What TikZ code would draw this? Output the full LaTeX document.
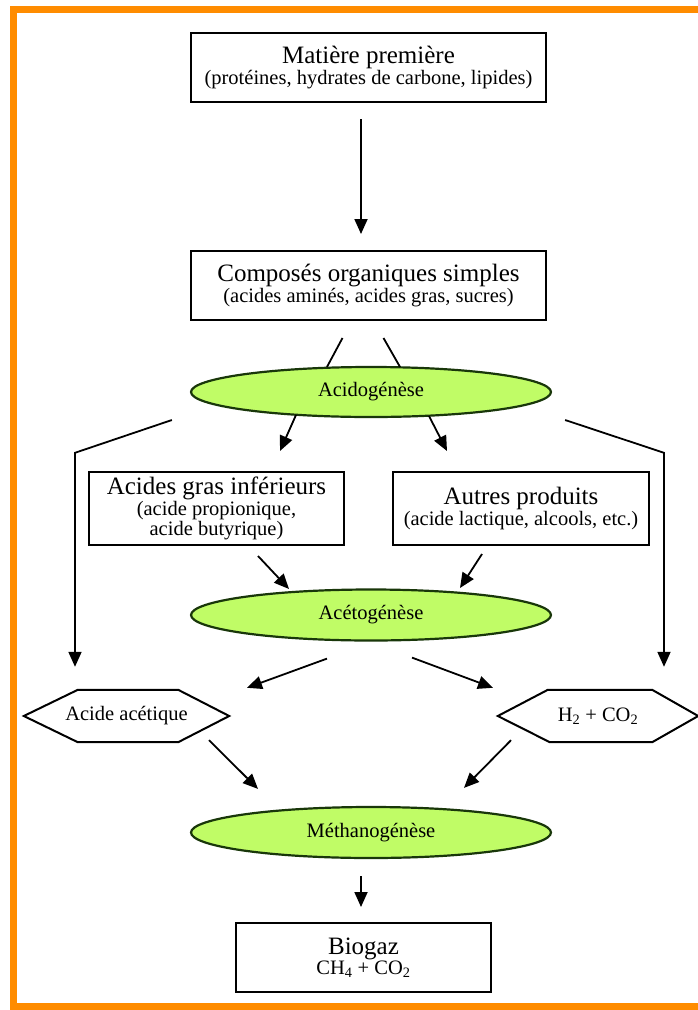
\documentclass[tikz,border=0pt]{standalone}
\usepackage{fontspec}
\setmainfont{Liberation Serif}
\usetikzlibrary{shapes.geometric,arrows.meta,calc}
\definecolor{orangeframe}{RGB}{255,140,0}
\definecolor{phasefill}{RGB}{192,252,102}
\definecolor{phasedraw}{RGB}{25,55,10}
\newcommand{\bigtxt}{\fontsize{25}{22}\selectfont}
\newcommand{\smalltxt}{\fontsize{20.5}{22}\selectfont}
\tikzset{
  stagebox/.style={draw, line width=2pt, rectangle, align=center, inner sep=0pt},
  phase/.style={draw=phasedraw, fill=phasefill, line width=2.2pt, ellipse, minimum width=360pt, minimum height=50pt, inner sep=0pt, font=\smalltxt},
  hexlabel/.style={rectangle, inner sep=0pt, font=\smalltxt},
  hexline/.style={line width=2pt},
  arr/.style={line width=1.8pt, -{Triangle[length=15pt,width=13pt]}},
  plain/.style={line width=1.8pt},
}
\begin{document}
\begin{tikzpicture}[x=1pt,y=-1pt]
\useasboundingbox (0,0) rectangle (697,1010);
\fill[white] (0,0) rectangle (697,1010);
% orange frame
\draw[orangeframe, line width=7pt] (710,9) -- (13,9) -- (13,1006) -- (710,1006);

% nodes
\node[stagebox, minimum width=355pt, minimum height=69pt] (mp) at (368.5,67.5)
  {\bigtxt Matière première\\ \smalltxt (protéines, hydrates de carbone, lipides)};
\node[stagebox, minimum width=355pt, minimum height=69pt] (cos) at (368.5,285.5)
  {\bigtxt Composés organiques simples\\ \smalltxt (acides aminés, acides gras, sucres)};
\node[phase] (acido) at (371,392) {Acidogénèse};
\node[stagebox, minimum width=255pt, minimum height=73pt] (agi) at (216.5,508.5)
  {\bigtxt Acides gras inférieurs\\ \smalltxt (acide propionique,\\ \smalltxt acide butyrique)};
\node[stagebox, minimum width=256pt, minimum height=73pt] (ap) at (521,508.5)
  {\bigtxt Autres produits\\ \smalltxt (acide lactique, alcools, etc.)};
\node[phase, minimum height=51pt] (aceto) at (371,615) {Acétogénèse};
\node[hexlabel, minimum width=205pt, minimum height=52pt] (aa) at (126.5,716) {Acide acétique};
\node[hexlabel, minimum width=200pt, minimum height=52pt] (h2) at (598,716) {H\textsubscript{2} + CO\textsubscript{2}};
\node[phase, minimum height=51pt] (metha) at (371,832.5) {Méthanogénèse};
\node[stagebox, minimum width=255pt, minimum height=69pt] (bio) at (363.5,957.5)
  {\bigtxt Biogaz\\ \smalltxt CH\textsubscript{4} + CO\textsubscript{2}};

% hexagon outlines
\draw[hexline] (aa.west) -- ($(aa.north west)+(54,0)$) -- ($(aa.north east)+(-51,0)$) -- (aa.east)
  -- ($(aa.south east)+(-51,0)$) -- ($(aa.south west)+(54,0)$) -- cycle;
\draw[hexline] (h2.west) -- ($(h2.north west)+(50,0)$) -- ($(h2.north east)+(-46,0)$) -- (h2.east)
  -- ($(h2.south east)+(-46,0)$) -- ($(h2.south west)+(52,0)$) -- cycle;

% connectors
\draw[arr] ($(mp.south)+(-7.5,16)$) -- ($(cos.north)+(-7.5,-16)$);
\draw[plain] ($(cos.south)+(-26,17)$) -- ($(acido.north)+(-44,1)$);
\draw[plain] ($(cos.south)+(15,17)$) -- ($(acido.north)+(29,1)$);
\draw[arr] ($(acido.center)+(-75,23)$) -- ($(agi.north)+(63.5,-20)$);
\draw[arr] ($(acido.center)+(58,24)$) -- ($(ap.north)+(-74,-20)$);
\draw[arr] ($(acido.west)+(-18,28)$) -- ($(aa.north)+(-51.5,-237)$) -- ($(aa.north)+(-51.5,-23)$);
\draw[arr] ($(acido.east)+(13,28)$) -- ($(h2.north)+(66,-237)$) -- ($(h2.north)+(66,-23)$);
\draw[arr] ($(agi.south)+(41.5,10)$) -- ($(aceto.center)+(-82,-26)$);
\draw[arr] ($(ap.south)+(-39,8)$) -- ($(aceto.center)+(89,-27)$);
\draw[arr] ($(aceto.south)+(-44,17)$) -- ($(aa.north)+(120.5,-2)$);
\draw[arr] ($(aceto.south)+(41,16)$) -- ($(h2.north)+(-105,-2)$);
\draw[arr] ($(aa.south)+(82.5,-2)$) -- ($(metha.north)+(-113,-17)$);
\draw[arr] ($(h2.south)+(-87,-2)$) -- ($(metha.north)+(93,-18)$);
\draw[arr] ($(metha.south)+(-10,17)$) -- ($(bio.north)+(-2.5,-15)$);
\end{tikzpicture}
\end{document}
